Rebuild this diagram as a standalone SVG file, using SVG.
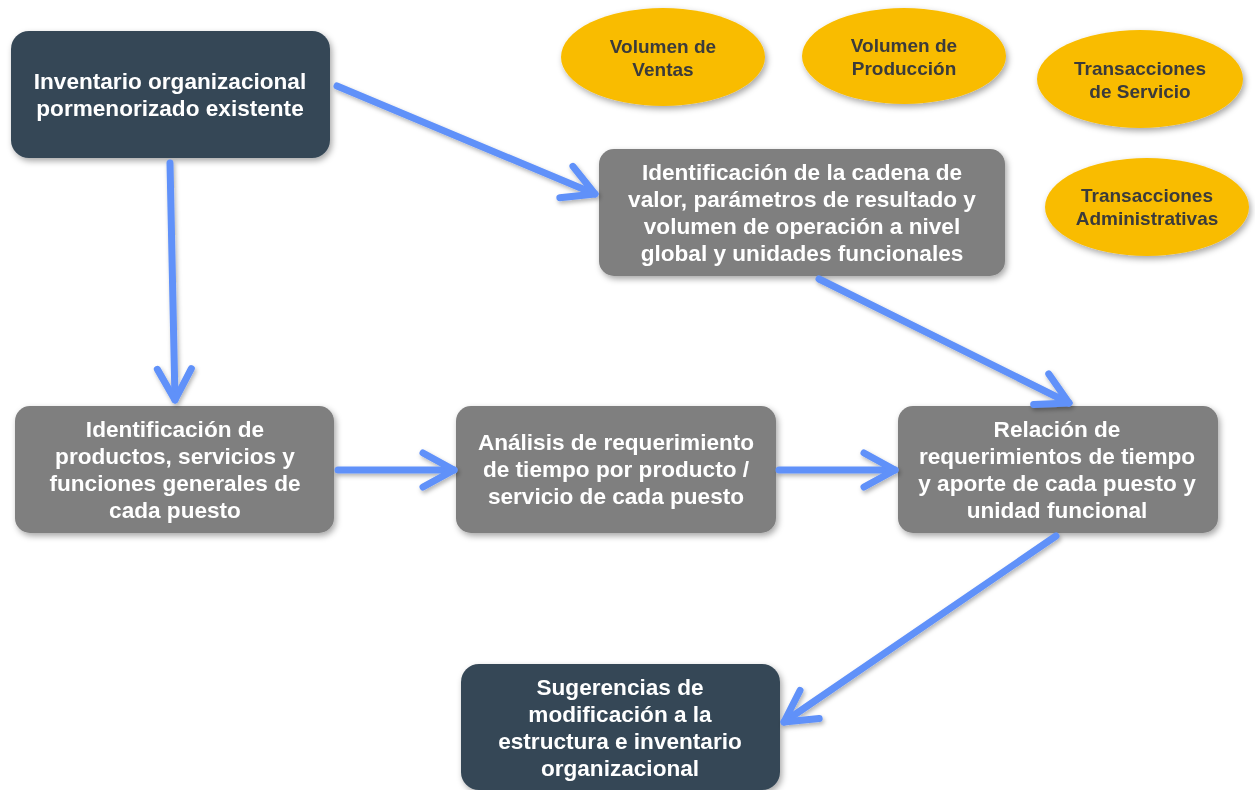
<svg xmlns="http://www.w3.org/2000/svg" width="1255" height="790" viewBox="0 0 1255 790">
<style>
.dark{fill:#344756}
.gray{fill:#7f7f7f}
.ell{fill:#f9bc04}
.t{font-family:"Liberation Sans",Arial,sans-serif;font-weight:bold;font-size:22.6px;fill:#fff;text-anchor:middle}
.te{font-family:"Liberation Sans",Arial,sans-serif;font-weight:bold;font-size:19px;fill:#3a3a3a;text-anchor:middle}
.c{fill:none;stroke:#6091f9;stroke-width:7;stroke-linecap:round;stroke-linejoin:round}
</style>
<defs>
<filter id="sh" x="-10%" y="-10%" width="125%" height="130%">
<feDropShadow dx="2" dy="3" stdDeviation="3" flood-color="#000" flood-opacity="0.35"/>
</filter>
<filter id="sha" x="-10%" y="-10%" width="125%" height="130%">
<feDropShadow dx="1.5" dy="2.5" stdDeviation="2" flood-color="#000" flood-opacity="0.3"/>
</filter>
<marker id="chev" markerUnits="userSpaceOnUse" viewBox="-40 -25 45 50" refX="0" refY="0" markerWidth="45" markerHeight="50" orient="auto" overflow="visible">
<path d="M-31,-17 L0,0 L-31,17" fill="none" stroke="#6091f9" stroke-width="7" stroke-linecap="round" stroke-linejoin="round"/>
</marker>
</defs>

<g id="n1" filter="url(#sh)">
<rect class="dark" x="11" y="31" width="319" height="127" rx="18"/>
<text class="t" x="170" y="89">Inventario organizacional</text>
<text class="t" x="170" y="116">pormenorizado existente</text>
</g>

<g id="e1" filter="url(#sh)">
<ellipse class="ell" cx="663" cy="57" rx="102" ry="49"/>
<text class="te" x="663" y="53">Volumen de</text>
<text class="te" x="663" y="76">Ventas</text>
</g>
<g id="e2" filter="url(#sh)">
<ellipse class="ell" cx="904" cy="56" rx="102" ry="48"/>
<text class="te" x="904" y="52">Volumen de</text>
<text class="te" x="904" y="75">Producción</text>
</g>
<g id="e3" filter="url(#sh)">
<ellipse class="ell" cx="1140" cy="79" rx="103" ry="49"/>
<text class="te" x="1140" y="75">Transacciones</text>
<text class="te" x="1140" y="98">de Servicio</text>
</g>
<g id="e4" filter="url(#sh)">
<ellipse class="ell" cx="1147" cy="207" rx="102" ry="49"/>
<text class="te" x="1147" y="202">Transacciones</text>
<text class="te" x="1147" y="225">Administrativas</text>
</g>

<g id="n2" filter="url(#sh)">
<rect class="gray" x="599" y="149" width="406" height="127" rx="15"/>
<text class="t" x="802" y="180">Identificación de la cadena de</text>
<text class="t" x="802" y="207">valor, parámetros de resultado y</text>
<text class="t" x="802" y="234">volumen de operación a nivel</text>
<text class="t" x="802" y="261">global y unidades funcionales</text>
</g>

<g id="n3" filter="url(#sh)">
<rect class="gray" x="15" y="406" width="319" height="127" rx="15"/>
<text class="t" x="175" y="437">Identificación de</text>
<text class="t" x="175" y="464">productos, servicios y</text>
<text class="t" x="175" y="491">funciones generales de</text>
<text class="t" x="175" y="518">cada puesto</text>
</g>

<g id="n4" filter="url(#sh)">
<rect class="gray" x="456" y="406" width="320" height="127" rx="15"/>
<text class="t" x="616" y="450">Análisis de requerimiento</text>
<text class="t" x="616" y="477">de tiempo por producto /</text>
<text class="t" x="616" y="504">servicio de cada puesto</text>
</g>

<g id="n5" filter="url(#sh)">
<rect class="gray" x="898" y="406" width="320" height="127" rx="15"/>
<text class="t" x="1057" y="437">Relación de</text>
<text class="t" x="1057" y="464">requerimientos de tiempo</text>
<text class="t" x="1057" y="491">y aporte de cada puesto y</text>
<text class="t" x="1057" y="518">unidad funcional</text>
</g>

<g id="n6" filter="url(#sh)">
<rect class="dark" x="461" y="664" width="319" height="126" rx="18"/>
<text class="t" x="620" y="695">Sugerencias de</text>
<text class="t" x="620" y="722">modificación a la</text>
<text class="t" x="620" y="749">estructura e inventario</text>
<text class="t" x="620" y="776">organizacional</text>
</g>

<g id="connectors" filter="url(#sha)">
<path class="c" d="M337,86 L595,194" marker-end="url(#chev)"/>
<path class="c" d="M170,163 L175,400" marker-end="url(#chev)"/>
<path class="c" d="M338,470 L454,470" marker-end="url(#chev)"/>
<path class="c" d="M779,470 L895,470" marker-end="url(#chev)"/>
<path class="c" d="M819,279 L1069,403" marker-end="url(#chev)"/>
<path class="c" d="M1056,536 L784,722" marker-end="url(#chev)"/>
</g>
</svg>
